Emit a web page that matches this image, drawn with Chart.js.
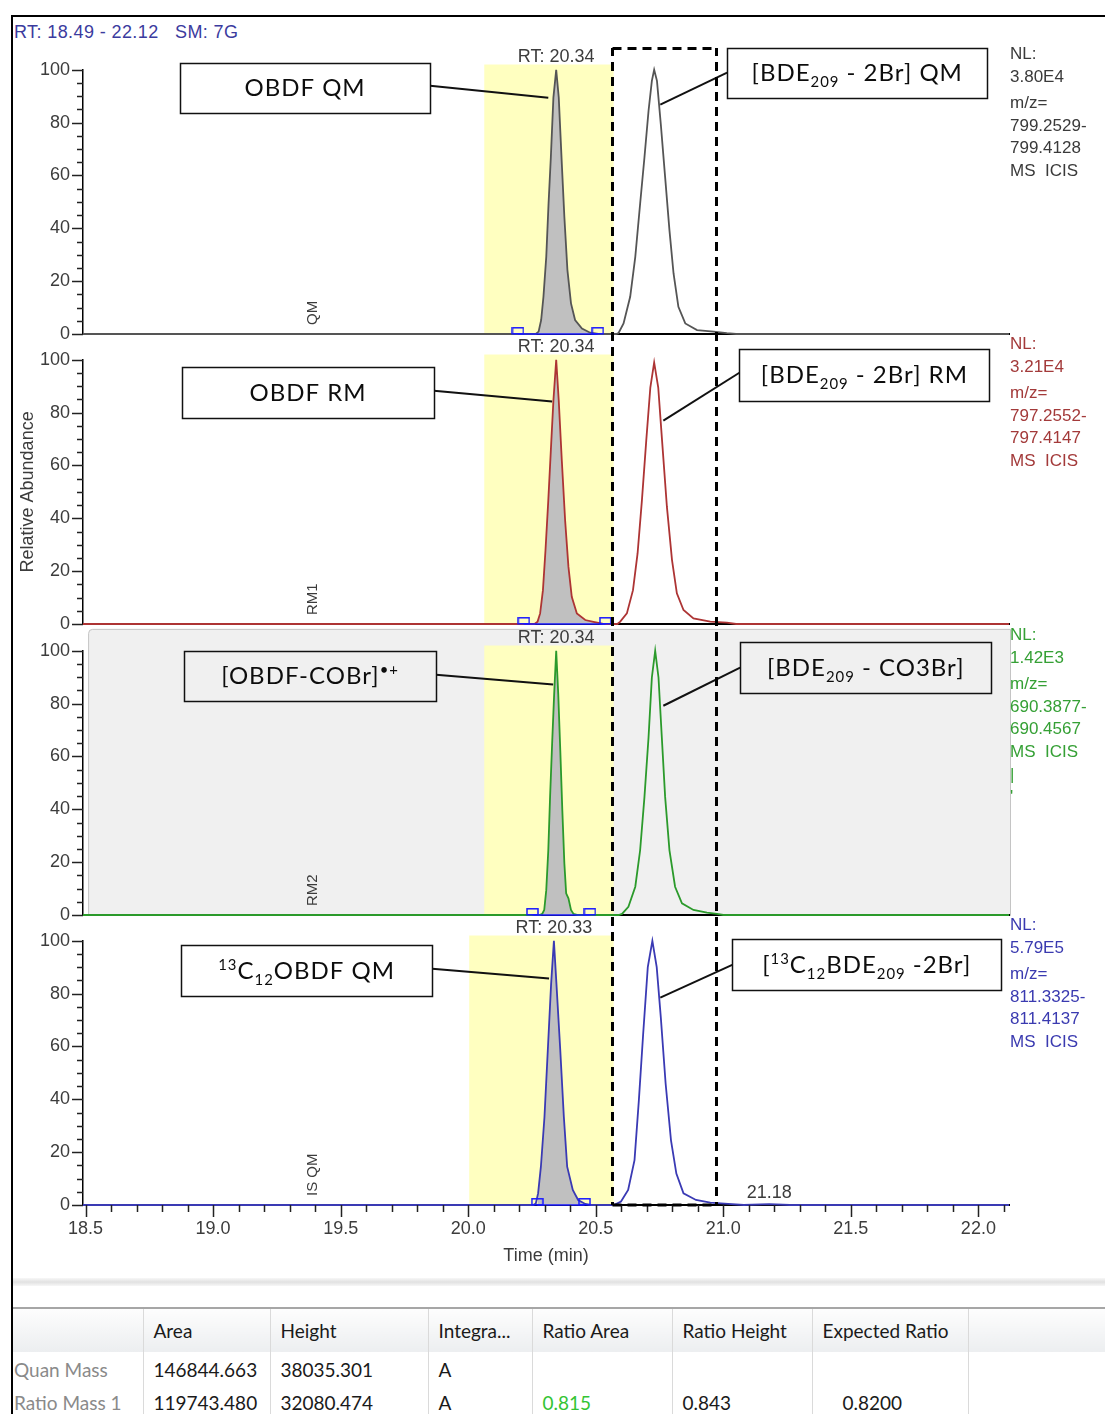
<!DOCTYPE html>
<html>
<head>
<meta charset="utf-8">
<title>Chromatogram OBDF / BDE209</title>
<script src="https://cdn.jsdelivr.net/npm/chart.js@4.4.1/dist/chart.umd.min.js"></script>
<style>
  html, body { margin: 0; padding: 0; background: #fff; }
  body { position: relative; width: 1105px; height: 1414px; overflow: hidden; font-family: "Liberation Sans", Arial, sans-serif; }
  #frame { position: absolute; left: 11px; top: 15px; width: 1110px; height: 1420px; border-left: 2px solid #000; border-top: 2px solid #000; }
  #hdr { position: absolute; left: 14px; top: 21px; font-size: 18px; line-height: 22px; color: #3b3b9e; white-space: pre; letter-spacing: 0.4px; }
  #hdr span.sm { position: absolute; left: 161px; top: 0; }
  canvas { position: absolute; left: 0; }
  #band { position: absolute; left: 13px; top: 1278px; width: 1092px; height: 8px; background: linear-gradient(#f7f7f7, #e1e1e1, #f7f7f7); }
  #tbl { position: absolute; left: 13px; top: 1307px; border-collapse: collapse; table-layout: fixed; width: 1092px;
         font-family: Lato, "Open Sans", sans-serif; font-size: 19px; color: #1a1a1a; border-top: 2px solid #a6a6a6; }
  #tbl td, #tbl th { padding: 0 0 0 10px; white-space: nowrap; overflow: hidden; border-left: 1px solid #dadada; text-align: left; font-weight: normal; }
  #tbl th { height: 43px; background: linear-gradient(#fdfdfd, #eceef0); }
  #tbl th:first-child, #tbl td:first-child { border-left: none; padding-left: 1px; }
  #tbl tr.r0 td { height: 34px; }
  #tbl tr.r1 td { height: 32px; }
  #tbl td.lab { color: #8a8a8a; }
</style>
</head>
<body>
<div id="frame"></div>
<div id="hdr">RT: 18.49 - 22.12<span class="sm">SM: 7G</span></div>
<div id="band"></div>
<table id="tbl"></table>
<script>
// ---- data ----
const xMin = 18.49, xMax = 22.12;
const xTickLabels = ['18.5', '19.0', '19.5', '20.0', '20.5', '21.0', '21.5', '22.0'];
const yTickLabels = ['0', '20', '40', '60', '80', '100'];

const panelNames = ['QM', 'RM1', 'RM2', 'IS QM'];
const rtLabels = ['RT: 20.34', 'RT: 20.34', 'RT: 20.34', 'RT: 20.33'];
const rtTimes = [20.345, 20.345, 20.345, 20.336];

// OBDF QM + [BDE209-2Br] QM
const qmTime = [18.49, 20.265, 20.276, 20.286, 20.295, 20.306, 20.315, 20.324, 20.334, 20.345, 20.355, 20.367, 20.377, 20.389,
  20.403, 20.419, 20.446, 20.478, 20.51, 20.58, 20.589, 20.609, 20.635, 20.655, 20.674, 20.691, 20.707, 20.720, 20.729, 20.740,
  20.755, 20.772, 20.789, 20.805, 20.824, 20.851, 20.897, 20.962, 21.014, 21.05, 22.12];
const qmAbund = [0, 0, 0.9, 5.3, 14.1, 29.2, 49.4, 66.9, 89.5, 100, 89.5, 64.4, 44.3, 24.2,
  11.6, 5.3, 2.1, 0.5, 0, 0, 0.3, 4.0, 14.1, 29.2, 49.3, 66.9, 84.5, 95.8, 100, 95.8,
  79.5, 59.4, 39.2, 22.9, 10.3, 4.0, 1.5, 0.9, 0.3, 0, 0];

// OBDF RM + [BDE209-2Br] RM
const rm1Time = [18.49, 20.26, 20.272, 20.282, 20.293, 20.303, 20.314, 20.324, 20.334, 20.345, 20.355, 20.367, 20.380, 20.393,
  20.406, 20.426, 20.459, 20.491, 20.53, 20.585, 20.596, 20.622, 20.646, 20.664, 20.681, 20.698, 20.714, 20.729, 20.745, 20.760,
  20.779, 20.799, 20.818, 20.844, 20.883, 20.949, 21.014, 21.05, 22.12];
const rm1Abund = [0, 0, 0.9, 4.0, 12.8, 27.9, 46.8, 65.7, 84.5, 100, 84.5, 61.9, 39.2, 21.6,
  10.3, 4.0, 1.5, 0.8, 0, 0, 0.9, 4.0, 12.8, 26.7, 46.8, 69.4, 89.5, 99, 89.5, 69.4,
  44.3, 24.2, 11.6, 5.3, 2.1, 0.9, 0.5, 0, 0];

// [OBDF-COBr] + [BDE209-CO3Br]
const rm2Time = [18.49, 20.28, 20.290, 20.298, 20.306, 20.314, 20.321, 20.329, 20.337, 20.345, 20.353, 20.361, 20.369, 20.377,
  20.384, 20.393, 20.403, 20.413, 20.43, 20.59, 20.603, 20.628, 20.655, 20.674, 20.691, 20.707, 20.720, 20.733, 20.746, 20.759,
  20.772, 20.789, 20.811, 20.838, 20.883, 20.936, 20.975, 21.0, 22.12];
const rm2Abund = [0, 0, 0.4, 1.9, 9.4, 24.5, 44.7, 64.8, 83.6, 100, 83.6, 62.3, 39.6, 19.5,
  8.2, 6.3, 1.9, 0.4, 0, 0, 0.4, 3.1, 10.7, 24.5, 44.7, 67.3, 89.9, 100, 89.9, 67.3,
  44.7, 24.5, 10.7, 4.4, 1.9, 0.9, 0.4, 0, 0];

// 13C12 OBDF QM + [13C12BDE209-2Br]
const isTime = [18.49, 20.255, 20.265, 20.274, 20.285, 20.299, 20.312, 20.325, 20.336, 20.346, 20.361, 20.375, 20.388, 20.410,
  20.431, 20.459, 20.48, 20.56, 20.571, 20.599, 20.627, 20.652, 20.669, 20.686, 20.704, 20.722, 20.739, 20.755, 20.774, 20.795,
  20.816, 20.844, 20.893, 20.949, 21.019, 21.08, 21.18, 21.26, 22.12];
const isAbund = [0, 0, 0.6, 4.4, 14.5, 33.3, 58.5, 83.6, 100, 83.6, 58.5, 33.3, 14.5, 5.7,
  1.9, 0.4, 0, 0, 0, 1.3, 5.7, 17, 39.6, 64.9, 90, 100, 90, 71.1, 45.9, 24.5,
  11.9, 4.4, 1.9, 0.9, 0.4, 0, 0.3, 0, 0];

const intStart = [20.195, 20.218, 20.252, 20.271];
const intEnd = [20.508, 20.538, 20.477, 20.456];
const yellowStart = [20.063, 20.063, 20.063, 20.004];
const yellowEnd = 20.57;

const nlLabels = [
  ['NL:', '3.80E4', 'm/z=', '799.2529-', '799.4128', 'MS  ICIS'],
  ['NL:', '3.21E4', 'm/z=', '797.2552-', '797.4147', 'MS  ICIS'],
  ['NL:', '1.42E3', 'm/z=', '690.3877-', '690.4567', 'MS  ICIS', '|', "'"],
  ['NL:', '5.79E5', 'm/z=', '811.3325-', '811.4137', 'MS  ICIS']
];

const tableHeader = ['', 'Area', 'Height', 'Integra...', 'Ratio Area', 'Ratio Height', 'Expected Ratio', ''];
const tableRows = [
  ['Quan Mass', '146844.663', '38035.301', 'A', '', '', '', ''],
  ['Ratio Mass 1', '119743.480', '32080.474', 'A', '0.815', '0.843', '0.8200', '']
];

// ---- look ----
const traces = [[qmTime, qmAbund], [rm1Time, rm1Abund], [rm2Time, rm2Abund], [isTime, isAbund]];
const traceColors = ['#555555', '#ad3434', '#2b9a2b', '#3a3ab4'];
const nlColors = ['#3a3a3a', '#a33a3a', '#35a035', '#3a3ab0'];
const nlOffsets = [-15, 8, 34, 57, 79, 102, 125, 147];
// chart area runs from y=23 to y=288 inside every canvas; x axis box fills the rest
const panelBox = [{ top: 46, h: 318 }, { top: 336, h: 318 }, { top: 627, h: 318 }, { top: 917, h: 358 }];
const FONT = '"Liberation Sans", Arial, sans-serif';
const TXT = '#3c3c3c';

const annots = [
  [{ x0: 18.870, x1: 19.851, top: 102.6, bot: 83.8, from: [19.851, 94.0], to: [20.314, 89.4], parts: [['OBDF QM', 0]] },
   { x0: 21.015, x1: 22.035, top: 108.3, bot: 89.4, from: [21.015, 98.9], to: [20.753, 86.8], parts: [['[BDE', 0], ['209', 1], [' - 2Br] QM', 0]] }],
  [{ x0: 18.878, x1: 19.866, top: 97.4, bot: 78.1, from: [19.866, 88.3], to: [20.329, 84.2], parts: [['OBDF RM', 0]] },
   { x0: 21.063, x1: 22.043, top: 104.2, bot: 84.5, from: [21.063, 95.1], to: [20.765, 77.0], parts: [['[BDE', 0], ['209', 1], [' - 2Br] RM', 0]] }],
  [{ x0: 18.886, x1: 19.874, top: 100, bot: 81.1, from: [19.874, 90.9], to: [20.333, 87.2], parts: [['[OBDF-COBr]', 0], ['\u2022+', 2]] },
   { x0: 21.066, x1: 22.051, top: 103.4, bot: 84.2, from: [21.066, 93.6], to: [20.765, 79.2], parts: [['[BDE', 0], ['209', 1], [' - CO3Br]', 0]] }],
  [{ x0: 18.874, x1: 19.859, top: 98.5, bot: 79.2, from: [19.859, 89.4], to: [20.317, 85.7], parts: [['13', 2], ['C', 0], ['12', 1], ['OBDF QM', 0]] },
   { x0: 21.035, x1: 22.090, top: 100.8, bot: 81.5, from: [21.035, 90.9], to: [20.753, 78.5], parts: [['[', 0], ['13', 2], ['C', 0], ['12', 1], ['BDE', 0], ['209', 1], [' -2Br]', 0]] }]
];
const dashT0 = 20.565, dashT1 = 20.972, dashTopVal = 108.3, dashPageTop = 47;

// integration marker (open blue rectangle sitting on the baseline)
const marker = document.createElement('canvas');
marker.width = 13; marker.height = 14;
(function () {
  const m = marker.getContext('2d');
  m.strokeStyle = '#1a1aff'; m.lineWidth = 1.5;
  m.strokeRect(1, 0.8, 11, 6);
})();

function drawRich(ctx, parts, cx, cy, size) {
  ctx.letterSpacing = '1px';
  const widths = parts.map(([t, m]) => {
    ctx.font = (m ? size * 0.62 : size) + 'px Lato, "Open Sans", sans-serif';
    return ctx.measureText(t).width;
  });
  const total = widths.reduce((a, b) => a + b, 0);
  let x = cx - total / 2;
  const base = cy + size * 0.36;
  ctx.textAlign = 'left';
  ctx.textBaseline = 'alphabetic';
  parts.forEach(([t, m], k) => {
    ctx.font = (m ? size * 0.62 : size) + 'px Lato, "Open Sans", sans-serif';
    const dy = m === 1 ? size * 0.24 : (m === 2 ? -size * 0.38 : 0);
    ctx.fillText(t, x, base + dy);
    x += widths[k];
  });
  ctx.letterSpacing = '0px';
}

function panelPlugin(i) {
  return {
    id: 'panel' + i,
    beforeDraw(chart) {
      const { ctx, chartArea: a, scales: { x, y } } = chart;
      ctx.save();
      if (i === 2) {
        const l = x.getPixelForValue(18.51), t = y.getPixelForValue(108.3);
        ctx.fillStyle = '#f0f0f0';
        ctx.strokeStyle = '#c4c4c4';
        ctx.lineWidth = 1;
        ctx.beginPath();
        if (ctx.roundRect) ctx.roundRect(l + 0.5, t + 0.5, a.right + 1 - l, a.bottom - t, [4, 0, 0, 0]);
        else ctx.rect(l + 0.5, t + 0.5, a.right + 1 - l, a.bottom - t);
        ctx.fill();
        ctx.stroke();
      }
      const ys = x.getPixelForValue(yellowStart[i]), ye = x.getPixelForValue(yellowEnd);
      const yt = y.getPixelForValue(102), yb = y.getPixelForValue(0);
      ctx.fillStyle = '#ffffc0';
      ctx.fillRect(ys, yt, ye - ys, yb - yt);
      ctx.restore();
    },
    afterDraw(chart) {
      const { ctx, chartArea: a, scales: { x, y } } = chart;
      ctx.save();
      // axis tick marks
      ctx.strokeStyle = '#222';
      ctx.lineWidth = 1.5;
      ctx.beginPath();
      for (let v = 0; v <= 100; v += 5) {
        const p = Math.round(y.getPixelForValue(v)) + 0.5;
        const len = v % 20 === 0 ? 11 : 6;
        ctx.moveTo(a.left, p); ctx.lineTo(a.left - len, p);
      }
      if (i === 3) {
        for (let k = 0; k <= 36; k++) {
          const v = 18.5 + k * 0.1;
          const p = Math.round(x.getPixelForValue(v)) + 0.5;
          const len = k % 5 === 0 ? 12 : 7;
          ctx.moveTo(p, a.bottom); ctx.lineTo(p, a.bottom + len);
        }
      }
      ctx.stroke();

      // RT label above the integrated peak
      ctx.fillStyle = TXT;
      ctx.font = '18px ' + FONT;
      ctx.textAlign = 'center';
      ctx.textBaseline = 'middle';
      ctx.fillText(rtLabels[i], x.getPixelForValue(rtTimes[i]), y.getPixelForValue(100) - 13);
      if (i === 3) ctx.fillText('21.18', x.getPixelForValue(21.18), y.getPixelForValue(0) - 12);

      // panel name, rotated
      ctx.save();
      ctx.translate(x.getPixelForValue(19.39), y.getPixelForValue(0) - 9);
      ctx.rotate(-Math.PI / 2);
      ctx.font = '15px ' + FONT;
      ctx.textAlign = 'left';
      ctx.fillText(panelNames[i], 0, 0);
      ctx.restore();

      // NL / m/z block on the right
      ctx.fillStyle = nlColors[i];
      ctx.font = '17px ' + FONT;
      ctx.textAlign = 'left';
      nlLabels[i].forEach((t, k) => ctx.fillText(t, a.right + 1, y.getPixelForValue(100) + nlOffsets[k]));

      // labelled boxes + leader lines
      ctx.strokeStyle = '#111';
      ctx.fillStyle = '#0d0d0d';
      annots[i].forEach(b => {
        const l = x.getPixelForValue(b.x0), r = x.getPixelForValue(b.x1);
        const t = y.getPixelForValue(b.top), bt = y.getPixelForValue(b.bot);
        ctx.lineWidth = 1.5;
        ctx.strokeRect(Math.round(l) + 0.5, Math.round(t) + 0.5, Math.round(r - l), Math.round(bt - t));
        ctx.lineWidth = 2;
        ctx.beginPath();
        ctx.moveTo(x.getPixelForValue(b.from[0]), y.getPixelForValue(b.from[1]));
        ctx.lineTo(x.getPixelForValue(b.to[0]), y.getPixelForValue(b.to[1]));
        ctx.stroke();
        drawRich(ctx, b.parts, (l + r) / 2, (t + bt) / 2, 24);
      });

      // dashed window spanning all panels
      const xa = Math.round(x.getPixelForValue(dashT0)) + 0.5, xb = Math.round(x.getPixelForValue(dashT1)) + 0.5;
      const yTop = i === 0 ? Math.round(y.getPixelForValue(dashTopVal)) : 0;
      const yBot = i === 3 ? y.getPixelForValue(0) : chart.height;
      const top = panelBox[i].top;
      ctx.strokeStyle = '#000';
      ctx.lineWidth = 3;
      ctx.setLineDash([9, 6]);
      ctx.lineDashOffset = top + yTop - dashPageTop;
      ctx.beginPath();
      ctx.moveTo(xa, yTop); ctx.lineTo(xa, yBot);
      ctx.moveTo(xb, yTop); ctx.lineTo(xb, yBot);
      ctx.stroke();
      ctx.lineDashOffset = 0;
      if (i === 0) {
        ctx.beginPath(); ctx.moveTo(xa, yTop + 0.5); ctx.lineTo(xb, yTop + 0.5); ctx.stroke();
      }
      if (i === 3) {
        ctx.beginPath(); ctx.moveTo(xa, yBot); ctx.lineTo(xb, yBot); ctx.stroke();
      }
      ctx.restore();
    }
  };
}

function makePanel(i) {
  const box = panelBox[i];
  const cv = document.createElement('canvas');
  cv.width = 1105; cv.height = box.h;
  cv.style.top = box.top + 'px';
  document.body.appendChild(cv);

  const [times, abund] = traces[i];
  const pts = times.map((t, k) => ({ x: t, y: abund[k] }));
  const areaPts = [{ x: intStart[i], y: 0 }]
    .concat(pts.filter(p => p.x > intStart[i] && p.x < intEnd[i]))
    .concat([{ x: intEnd[i], y: 0 }]);
  const last = i === 3;

  new Chart(cv, {
    type: 'line',
    data: {
      datasets: [
        { data: areaPts, order: 3, fill: 'origin', backgroundColor: '#c0c0c0', borderWidth: 0, pointRadius: 0, tension: 0, clip: false },
        { data: pts, order: 2, fill: false, borderColor: traceColors[i], borderWidth: 1.8, pointRadius: 0, tension: 0, clip: false },
        { data: [{ x: intStart[i], y: 0 }, { x: intEnd[i], y: 0 }], order: 1, showLine: true, fill: false,
          borderColor: '#1a1aff', borderWidth: 1.5, pointStyle: marker, pointRadius: 5, clip: false }
      ]
    },
    options: {
      responsive: false,
      animation: false,
      devicePixelRatio: 1,
      events: [],
      layout: { padding: { top: 23, right: 96, left: 0, bottom: 0 } },
      plugins: { legend: { display: false }, tooltip: { enabled: false } },
      scales: {
        x: {
          type: 'linear', min: xMin, max: xMax,
          afterFit: s => { s.height = box.h - 288; },
          afterBuildTicks: s => { s.ticks = xTickLabels.map(v => ({ value: parseFloat(v) })); },
          grid: { display: false, drawTicks: false },
          border: { display: true, color: '#000', width: 2 },
          ticks: { display: last, autoSkip: false, maxRotation: 0, padding: 13, color: TXT,
                   font: { family: FONT, size: 18 }, callback: (v, k) => xTickLabels[k] },
          title: { display: last, text: 'Time (min)', color: TXT, font: { family: FONT, size: 18 }, padding: { top: 0, bottom: 8 } }
        },
        y: {
          min: 0, max: 100,
          afterFit: s => { s.width = 83; },
          afterBuildTicks: s => { s.ticks = yTickLabels.map(v => ({ value: parseFloat(v) })); },
          grid: { display: false, drawTicks: false },
          border: { display: true, color: '#000', width: 1.5 },
          ticks: { autoSkip: false, padding: 13, color: TXT, font: { family: FONT, size: 18 }, callback: (v, k) => yTickLabels[k] },
          title: { display: i === 1, text: 'Relative Abundance', color: TXT, font: { family: FONT, size: 18 }, padding: { top: 17, bottom: 0 } }
        }
      }
    },
    plugins: [panelPlugin(i)]
  });
}

for (let i = 0; i < 4; i++) makePanel(i);

// results table
(function () {
  const tbl = document.getElementById('tbl');
  const widths = [130, 127, 158, 104, 140, 140, 156, 137];
  const cg = document.createElement('colgroup');
  widths.forEach(w => { const c = document.createElement('col'); c.style.width = w + 'px'; cg.appendChild(c); });
  tbl.appendChild(cg);
  const hr = document.createElement('tr');
  tableHeader.forEach(h => { const th = document.createElement('th'); th.textContent = h; hr.appendChild(th); });
  tbl.appendChild(hr);
  tableRows.forEach((row, r) => {
    const tr = document.createElement('tr');
    tr.className = 'r' + r;
    row.forEach((v, c) => {
      const td = document.createElement('td');
      td.textContent = v;
      if (c === 0) td.className = 'lab';
      if (c === 4 && v) td.style.color = '#33c433';
      if (c === 6 && v) td.style.paddingLeft = '30px';
      tr.appendChild(td);
    });
    tbl.appendChild(tr);
  });
})();
</script>
</body>
</html>
